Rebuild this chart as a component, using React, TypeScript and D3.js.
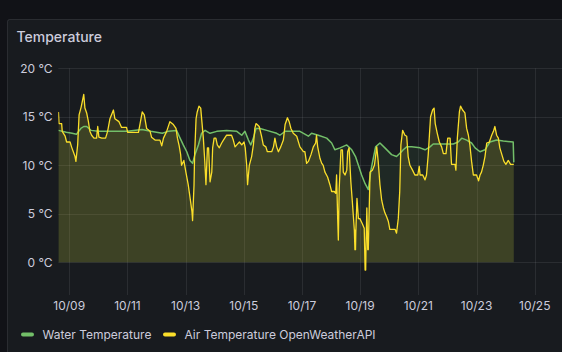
import React, { useEffect, useRef } from "react";
import * as d3 from "d3";

// series
const seriesNames = ["Water Temperature", "Air Temperature OpenWeatherAPI"];
const seriesColors = ["#73bf69", "#fade2a"];
const yTicks = [0, 5, 10, 15, 20];
// visible time range, in day-of-October
const timeRange = [8.625, 25.92];

// [day of October, °C]
const waterTemp: [number, number][] = [
  [8.63, 13.6], [8.9, 13.4], [9.1, 13.3], [9.25, 13.2], [9.4, 13.8], [9.5, 14.0], [9.6, 14.0],
  [9.75, 13.6], [10.0, 13.5], [10.5, 13.5], [11.0, 13.5], [11.5, 13.7], [11.8, 13.5], [12.2, 13.3],
  [12.4, 13.5], [12.69, 13.6], [12.81, 12.8], [12.92, 12.1], [13.04, 11.4], [13.15, 10.5],
  [13.24, 10.2], [13.32, 11.1], [13.44, 12.1], [13.55, 13.3], [13.67, 13.6], [13.84, 13.3],
  [14.07, 13.5], [14.41, 13.6], [14.76, 13.5], [14.93, 13.1], [15.04, 13.5], [15.16, 12.6],
  [15.24, 12.1], [15.33, 12.8], [15.42, 13.8], [15.56, 13.8], [15.79, 13.6], [16.13, 13.3],
  [16.24, 13.1], [16.42, 13.5], [16.65, 13.5], [16.93, 13.5], [17.22, 13.0], [17.33, 13.3],
  [17.56, 13.1], [17.85, 12.8], [18.02, 12.3], [18.13, 11.6], [18.31, 11.8], [18.54, 12.1],
  [18.71, 11.6], [18.84, 10.9], [18.94, 10.0], [19.05, 9.0], [19.17, 8.1], [19.28, 7.5],
  [19.37, 9.5], [19.45, 10.7], [19.53, 11.9], [19.68, 12.3], [19.85, 11.8], [20.08, 11.1],
  [20.25, 10.9], [20.42, 11.4], [20.48, 11.6], [20.6, 11.9], [20.77, 11.9], [21.06, 11.8],
  [21.23, 11.6], [21.4, 11.9], [21.51, 12.2], [21.86, 12.2], [22.2, 12.2], [22.37, 12.4],
  [22.49, 12.8], [22.66, 12.6], [22.83, 12.3], [22.95, 11.8], [23.12, 11.4], [23.29, 11.6],
  [23.46, 12.4], [23.69, 12.6], [23.92, 12.5], [24.26, 12.4], [24.28, 10.3],
];

const airTemp: [number, number][] = [
  [8.63, 15.5], [8.65, 14.3], [8.74, 14.3], [8.76, 13.5], [8.86, 13.0], [8.91, 12.4], [9.03, 12.4],
  [9.08, 11.9], [9.2, 10.9], [9.23, 10.4], [9.29, 12.1], [9.34, 15.2], [9.41, 16.0], [9.5, 17.3],
  [9.54, 15.9], [9.6, 15.4], [9.66, 14.5], [9.71, 13.5], [9.77, 13.1], [9.85, 12.8], [9.94, 12.8],
  [9.98, 14.0], [10.02, 12.9], [10.12, 12.8], [10.25, 12.8], [10.32, 13.5], [10.4, 14.8],
  [10.52, 15.7], [10.57, 14.8], [10.71, 14.5], [10.8, 13.9], [10.97, 13.9], [11.01, 13.4],
  [11.38, 13.4], [11.43, 14.2], [11.51, 15.5], [11.58, 15.2], [11.66, 13.8], [11.78, 13.5],
  [11.83, 12.9], [11.95, 12.6], [12.12, 12.6], [12.18, 12.0], [12.24, 12.8], [12.35, 13.5],
  [12.46, 14.5], [12.58, 14.2], [12.67, 13.8], [12.72, 12.8], [12.78, 12.0], [12.83, 11.1],
  [12.86, 10.0], [12.94, 10.5], [13.01, 9.3], [13.09, 8.0], [13.17, 6.3], [13.22, 5.2],
  [13.24, 4.3], [13.29, 8.0], [13.31, 11.1], [13.36, 14.8], [13.4, 15.5], [13.46, 16.1],
  [13.52, 15.9], [13.56, 14.5], [13.61, 12.8], [13.66, 10.4], [13.7, 8.0], [13.75, 11.8],
  [13.79, 11.8], [13.84, 8.3], [13.9, 9.3], [13.93, 11.8], [13.98, 12.8], [14.04, 12.8],
  [14.09, 12.1], [14.16, 11.8], [14.24, 12.3], [14.3, 12.6], [14.41, 13.1], [14.58, 13.1],
  [14.64, 12.6], [14.7, 11.9], [14.76, 12.1], [14.85, 12.4], [14.93, 12.1], [15.01, 12.4],
  [15.05, 11.8], [15.1, 10.0], [15.13, 8.0], [15.19, 10.0], [15.27, 10.9], [15.33, 12.1],
  [15.38, 13.8], [15.42, 14.3], [15.46, 14.2], [15.53, 14.0], [15.61, 13.0], [15.67, 12.1],
  [15.76, 11.9], [15.81, 11.4], [15.96, 11.4], [16.02, 11.9], [16.07, 12.8], [16.13, 11.9],
  [16.19, 11.4], [16.27, 11.9], [16.36, 12.6], [16.42, 14.2], [16.5, 14.9], [16.56, 14.5],
  [16.62, 13.8], [16.7, 13.3], [16.82, 13.0], [16.93, 11.9], [17.05, 11.4], [17.1, 11.4],
  [17.16, 10.2], [17.22, 10.4], [17.31, 11.1], [17.39, 11.9], [17.47, 12.3], [17.5, 13.1],
  [17.54, 11.9], [17.62, 10.7], [17.68, 10.2], [17.73, 10.0], [17.79, 9.3], [17.88, 8.8],
  [17.96, 8.0], [18.02, 7.3], [18.11, 7.3], [18.16, 7.1], [18.19, 9.0], [18.23, 4.2],
  [18.25, 2.3], [18.28, 7.6], [18.34, 11.6], [18.39, 11.6], [18.42, 9.3], [18.48, 9.0],
  [18.54, 9.5], [18.57, 11.4], [18.62, 11.8], [18.65, 10.0], [18.68, 8.3], [18.73, 6.3],
  [18.8, 3.3], [18.82, 1.3], [18.83, 3.3], [18.84, 1.3], [18.85, 3.0], [18.89, 6.6],
  [18.94, 4.5], [18.99, 4.5], [19.07, 4.0], [19.14, 3.5], [19.17, -0.8], [19.18, 1.0],
  [19.19, -0.8], [19.2, 1.5], [19.23, 5.6], [19.26, 1.3], [19.28, 1.3], [19.34, 9.3],
  [19.42, 9.5], [19.49, 10.0], [19.57, 11.9], [19.62, 10.4], [19.68, 8.0], [19.74, 6.4],
  [19.8, 5.6], [19.85, 5.1], [19.91, 4.7], [19.97, 4.2], [20.02, 3.4], [20.2, 3.4], [20.25, 3.0],
  [20.31, 4.5], [20.36, 7.3], [20.4, 12.1], [20.46, 13.6], [20.54, 13.1], [20.6, 13.0],
  [20.65, 10.9], [20.71, 10.0], [20.8, 9.5], [20.88, 9.0], [20.98, 9.0], [21.03, 9.9],
  [21.06, 9.0], [21.15, 9.0], [21.23, 8.5], [21.28, 9.0], [21.34, 11.1], [21.38, 13.1],
  [21.42, 15.0], [21.49, 15.7], [21.54, 15.9], [21.58, 14.3], [21.65, 13.3], [21.72, 12.4],
  [21.8, 11.9], [21.86, 11.2], [21.95, 11.2], [22.01, 12.8], [22.09, 12.8], [22.14, 10.1],
  [22.26, 10.1], [22.29, 9.5], [22.34, 12.8], [22.41, 15.5], [22.45, 16.1], [22.52, 15.7],
  [22.6, 15.4], [22.66, 13.8], [22.72, 13.1], [22.77, 12.1], [22.83, 10.4], [22.89, 9.0],
  [23.0, 9.0], [23.07, 8.4], [23.12, 9.0], [23.17, 9.3], [23.23, 10.0], [23.29, 10.9],
  [23.35, 12.3], [23.44, 12.4], [23.52, 13.1], [23.58, 13.5], [23.63, 14.0], [23.69, 13.1],
  [23.75, 12.8], [23.8, 11.8], [23.86, 11.2], [23.94, 10.4], [24.01, 10.1], [24.09, 10.5],
  [24.17, 10.1], [24.28, 10.1],
];

const toDate = (day: number) => new Date(Date.UTC(2024, 9, 1) + (day - 1) * 864e5);

const W = 562;
const H = 352;
const FONT = "Inter, 'Noto Sans', sans-serif";
const TEXT = "#ccccdc";

export default function App() {
  const ref = useRef<SVGSVGElement>(null);

  useEffect(() => {
    const svg = d3.select(ref.current);
    svg.selectAll("*").remove();

    const left = 58.3, right = 562, top = 68.3, bottom = 295;

    const x = d3.scaleUtc()
      .domain(timeRange.map(toDate))
      .range([left, right - 0.5]);
    const y = d3.scaleLinear()
      .domain([0, 20])
      .range([262.3, top]);

    // page + panel
    svg.append("rect").attr("width", W).attr("height", H).attr("fill", "#111217");
    svg.append("rect")
      .attr("x", 7.5).attr("y", 19.5)
      .attr("width", W + 10).attr("height", H)
      .attr("rx", 2)
      .attr("fill", "#181b1f")
      .attr("stroke", "rgba(204,204,220,0.12)");

    svg.append("text")
      .attr("x", 16.5).attr("y", 42)
      .attr("fill", TEXT)
      .attr("font-family", FONT)
      .attr("font-size", 14)
      .attr("font-weight", 500)
      .text("Temperature");

    // grid
    const xTicks = x.ticks(d3.utcDay.every(2)!);
    svg.append("g")
      .selectAll("line")
      .data(yTicks)
      .enter()
      .append("line")
      .attr("x1", left).attr("x2", right)
      .attr("y1", d => Math.round(y(d)) + 0.5)
      .attr("y2", d => Math.round(y(d)) + 0.5)
      .attr("stroke", "rgba(204,204,220,0.1)");
    svg.append("g")
      .selectAll("line")
      .data(xTicks)
      .enter()
      .append("line")
      .attr("x1", d => Math.round(x(d)) + 0.5)
      .attr("x2", d => Math.round(x(d)) + 0.5)
      .attr("y1", top).attr("y2", bottom)
      .attr("stroke", "rgba(204,204,220,0.1)");

    // axis labels
    svg.append("g")
      .selectAll("text")
      .data(yTicks)
      .enter()
      .append("text")
      .attr("x", 52.5)
      .attr("y", d => y(d) + 4.3)
      .attr("text-anchor", "end")
      .attr("fill", TEXT)
      .attr("font-family", FONT)
      .attr("font-size", 12)
      .text(d => `${d} °C`);
    svg.append("g")
      .selectAll("text")
      .data(xTicks)
      .enter()
      .append("text")
      .attr("x", d => x(d))
      .attr("y", 310)
      .attr("text-anchor", "middle")
      .attr("fill", TEXT)
      .attr("font-family", FONT)
      .attr("font-size", 12)
      .text(d => d3.utcFormat("%m/%d")(d));

    // series
    svg.append("clipPath").attr("id", "plot-clip")
      .append("rect")
      .attr("x", left).attr("y", top)
      .attr("width", right - left).attr("height", bottom - top);

    const plot = svg.append("g").attr("clip-path", "url(#plot-clip)");
    const series = [waterTemp, airTemp];
    const fills = [0.09, 0.14];
    const widths = [1.5, 1.3];

    series.forEach((data, i) => {
      const area = d3.area<[number, number]>()
        .x(d => x(toDate(d[0])))
        .y0(y(0))
        .y1(d => y(d[1]));
      plot.append("path")
        .datum(data)
        .attr("d", area)
        .attr("fill", seriesColors[i])
        .attr("fill-opacity", fills[i]);
    });
    series.forEach((data, i) => {
      const line = d3.line<[number, number]>()
        .x(d => x(toDate(d[0])))
        .y(d => y(d[1]));
      plot.append("path")
        .datum(data)
        .attr("d", line)
        .attr("fill", "none")
        .attr("stroke", seriesColors[i])
        .attr("stroke-width", widths[i])
        .attr("stroke-linejoin", "round");
    });

    // legend
    const legendX = [21, 163];
    seriesNames.forEach((name, i) => {
      svg.append("rect")
        .attr("x", legendX[i]).attr("y", 332.5)
        .attr("width", 13).attr("height", 4)
        .attr("rx", 2)
        .attr("fill", seriesColors[i]);
      svg.append("text")
        .attr("x", legendX[i] + 21.5)
        .attr("y", 339)
        .attr("fill", TEXT)
        .attr("font-family", FONT)
        .attr("font-size", 12)
        .text(name);
    });
  }, []);

  return (
    <div style={{ position: "fixed", left: 0, top: 0 }}>
      <svg ref={ref} width={W} height={H} style={{ display: "block" }} />
    </div>
  );
}
